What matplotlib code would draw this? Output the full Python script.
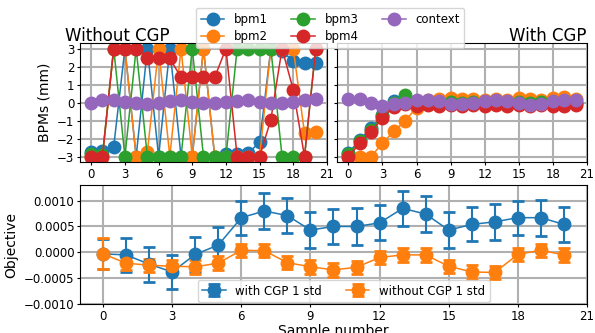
import matplotlib
matplotlib.use('Agg')
import matplotlib.pyplot as plt
import numpy as np
'''
Compara las lecturas de los BPMs y el objetivo con y sin CGP
'''

muestras = np.arange(21)

# lecturas sin CGP (mm)
bpm1_sin = [-2.75, -2.7, -2.45, 3, -3, 3, -3, 3, -3, -3, 3, -3, -2.85, -2.85, -2.8, -2.2, 3, 2.85, 2.3, 2.2, 2.2]
bpm2_sin = [-3, -3, 3, 3, -3, -2.75, 3, -3, 3, -3, 3, -3, -3, -3, -3, -3, 3, 3, 3, -1.7, -1.65]
bpm3_sin = [-2.85, -2.9, 3, -3, 3, -3, -3, -3, -3, 3, -3, -3, -3, 3, 3, 3, 3, -3, -3, -3, 3]
bpm4_sin = [-3, -3, 3, 3, 3, 2.45, 2.45, 2.45, 1.4, 1.4, 1.4, 1.4, 3, -3, -3, -3, -0.95, 3, 0.7, -3, 3]
contexto_sin = [0.0, 0.15, 0.15, 0.05, -0.05, -0.1, 0.0, 0.1, 0.15, 0.05, 0.0, -0.03, 0.03, 0.1, 0.15, 0.05, -0.03, -0.03, 0.05, 0.15, 0.2]

# lecturas con CGP (mm)
bpm1_con = [-2.8, -2.07, -1.42, -0.68, 0.06, 0.0, 0.0, 0.02, 0.0, 0.02, -0.02, 0.0, 0.02, 0.0, 0.02, 0.0, 0.0, 0.02, 0.0, 0.02, 0.0]
bpm2_con = [-3, -3, -3, -2.25, -1.6, -1.0, -0.3, 0.15, 0.2, 0.25, 0.2, 0.2, 0.15, 0.2, 0.15, 0.25, 0.2, 0.15, 0.25, 0.3, 0.2]
bpm3_con = [-2.85, -2.15, -1.5, -0.75, 0.0, 0.43, 0.05, 0.05, 0.0, 0.05, 0.0, 0.05, 0.0, 0.05, 0.0, 0.05, 0.0, 0.05, 0.0, 0.05, 0.0]
bpm4_con = [-3.0, -2.26, -1.61, -0.87, -0.22, -0.1, -0.2, -0.15, -0.2, -0.15, -0.2, -0.15, -0.2, -0.15, -0.2, -0.15, -0.2, -0.15, -0.2, -0.2, -0.15]
contexto_con = [0.19, 0.19, 0.0, -0.18, -0.07, -0.03, 0.15, 0.15, 0.06, -0.07, -0.09, 0.0, 0.06, 0.15, 0.06, -0.03, -0.12, -0.07, 0.06, 0.15, 0.15]

# objetivo promedio y desviacion estandar
obj_con = [-0.00003, -0.00005, -0.00023, -0.00038, -0.00004, 0.00014, 0.00067, 0.0008, 0.00071, 0.00043, 0.0005,
           0.0005, 0.00057, 0.00085, 0.00074, 0.00043, 0.00054, 0.00059, 0.00067, 0.00067, 0.00054]
std_con = [0.00029, 0.00033, 0.00034, 0.00033, 0.00034, 0.00034, 0.00033, 0.00034, 0.00034, 0.00035, 0.00033,
           0.00035, 0.00034, 0.00034, 0.00034, 0.00035, 0.00033, 0.00035, 0.00033, 0.00035, 0.00034]
obj_sin = [-0.00003, -0.00021, -0.00025, -0.00027, -0.00028, -0.00021, 0.00004, 0.00003, -0.0002, -0.00028, -0.00034,
           -0.00029, -0.0001, -0.00005, -0.00005, -0.00027, -0.00038, -0.00039, -0.00004, 0.00004, -0.00005]
std_sin = [0.0003, 0.00013, 0.00013, 0.00013, 0.00013, 0.00013, 0.00013, 0.00013, 0.00013, 0.00013, 0.00013,
           0.00013, 0.00013, 0.00013, 0.00013, 0.00013, 0.00013, 0.00013, 0.00013, 0.00013, 0.00013]

etiquetas = ['bpm1', 'bpm2', 'bpm3', 'bpm4', 'context']

plt.rcParams['font.size'] = 8.5

fig = plt.figure(figsize=(5.95, 3.33), dpi=100)
ax1 = fig.add_axes([0.1345, 0.5135, 0.415, 0.357])
ax2 = fig.add_axes([0.5664, 0.5135, 0.420, 0.357], sharey=ax1)
ax3 = fig.add_axes([0.1345, 0.0871, 0.852, 0.357])

estilo = dict(marker='o', ms=9, lw=1.1)
for serie, et in zip([bpm1_sin, bpm2_sin, bpm3_sin, bpm4_sin, contexto_sin], etiquetas):
    ax1.plot(muestras, serie, label=et, **estilo)
for serie, et in zip([bpm1_con, bpm2_con, bpm3_con, bpm4_con, contexto_con], etiquetas):
    ax2.plot(muestras, serie, label=et, **estilo)

for ax in (ax1, ax2, ax3):
    ax.grid(True, color='#b0b0b0', lw=1.5)
    ax.set_axisbelow(True)
    ax.set_xlim(-1, 21)
    ax.set_xticks(range(0, 22, 3))
    ax.tick_params(length=2.5, pad=1.5)

ax1.set_ylim(-3.3, 3.3)
ax1.set_yticks(range(-3, 4))
ax2.tick_params(labelleft=False)
ax1.set_ylabel('BPMs (mm)', fontsize=10)
ax1.text(-0.061, 1.022, 'Without CGP', transform=ax1.transAxes, ha='left', va='baseline', fontsize=12)
ax2.text(1.0, 1.022, 'With CGP', transform=ax2.transAxes, ha='right', va='baseline', fontsize=12)

fig.legend(*ax1.get_legend_handles_labels(), loc='upper center', bbox_to_anchor=(0.555, 0.976),
           ncol=3, fontsize=8.5, borderaxespad=0, labelspacing=0.4)

# objetivo
barras = dict(marker='o', ms=9, lw=1.1, capsize=4.3, capthick=2, elinewidth=1.5)
ax3.errorbar(muestras, obj_con, yerr=std_con, label='with CGP 1 std', **barras)
ax3.errorbar(muestras, obj_sin, yerr=std_sin, label='without CGP 1 std', **barras)
ax3.set_ylim(-0.001, 0.0013)
ax3.set_yticks([-0.001, -0.0005, 0.0, 0.0005, 0.001])
ax3.set_ylabel('Objective', fontsize=10)
ax3.set_xlabel('Sample number', fontsize=10, labelpad=1)
ax3.legend(loc='lower center', bbox_to_anchor=(0.52, 0.0), ncol=2, fontsize=8.5, borderaxespad=0.15)

plt.savefig('out.png', dpi=100)
